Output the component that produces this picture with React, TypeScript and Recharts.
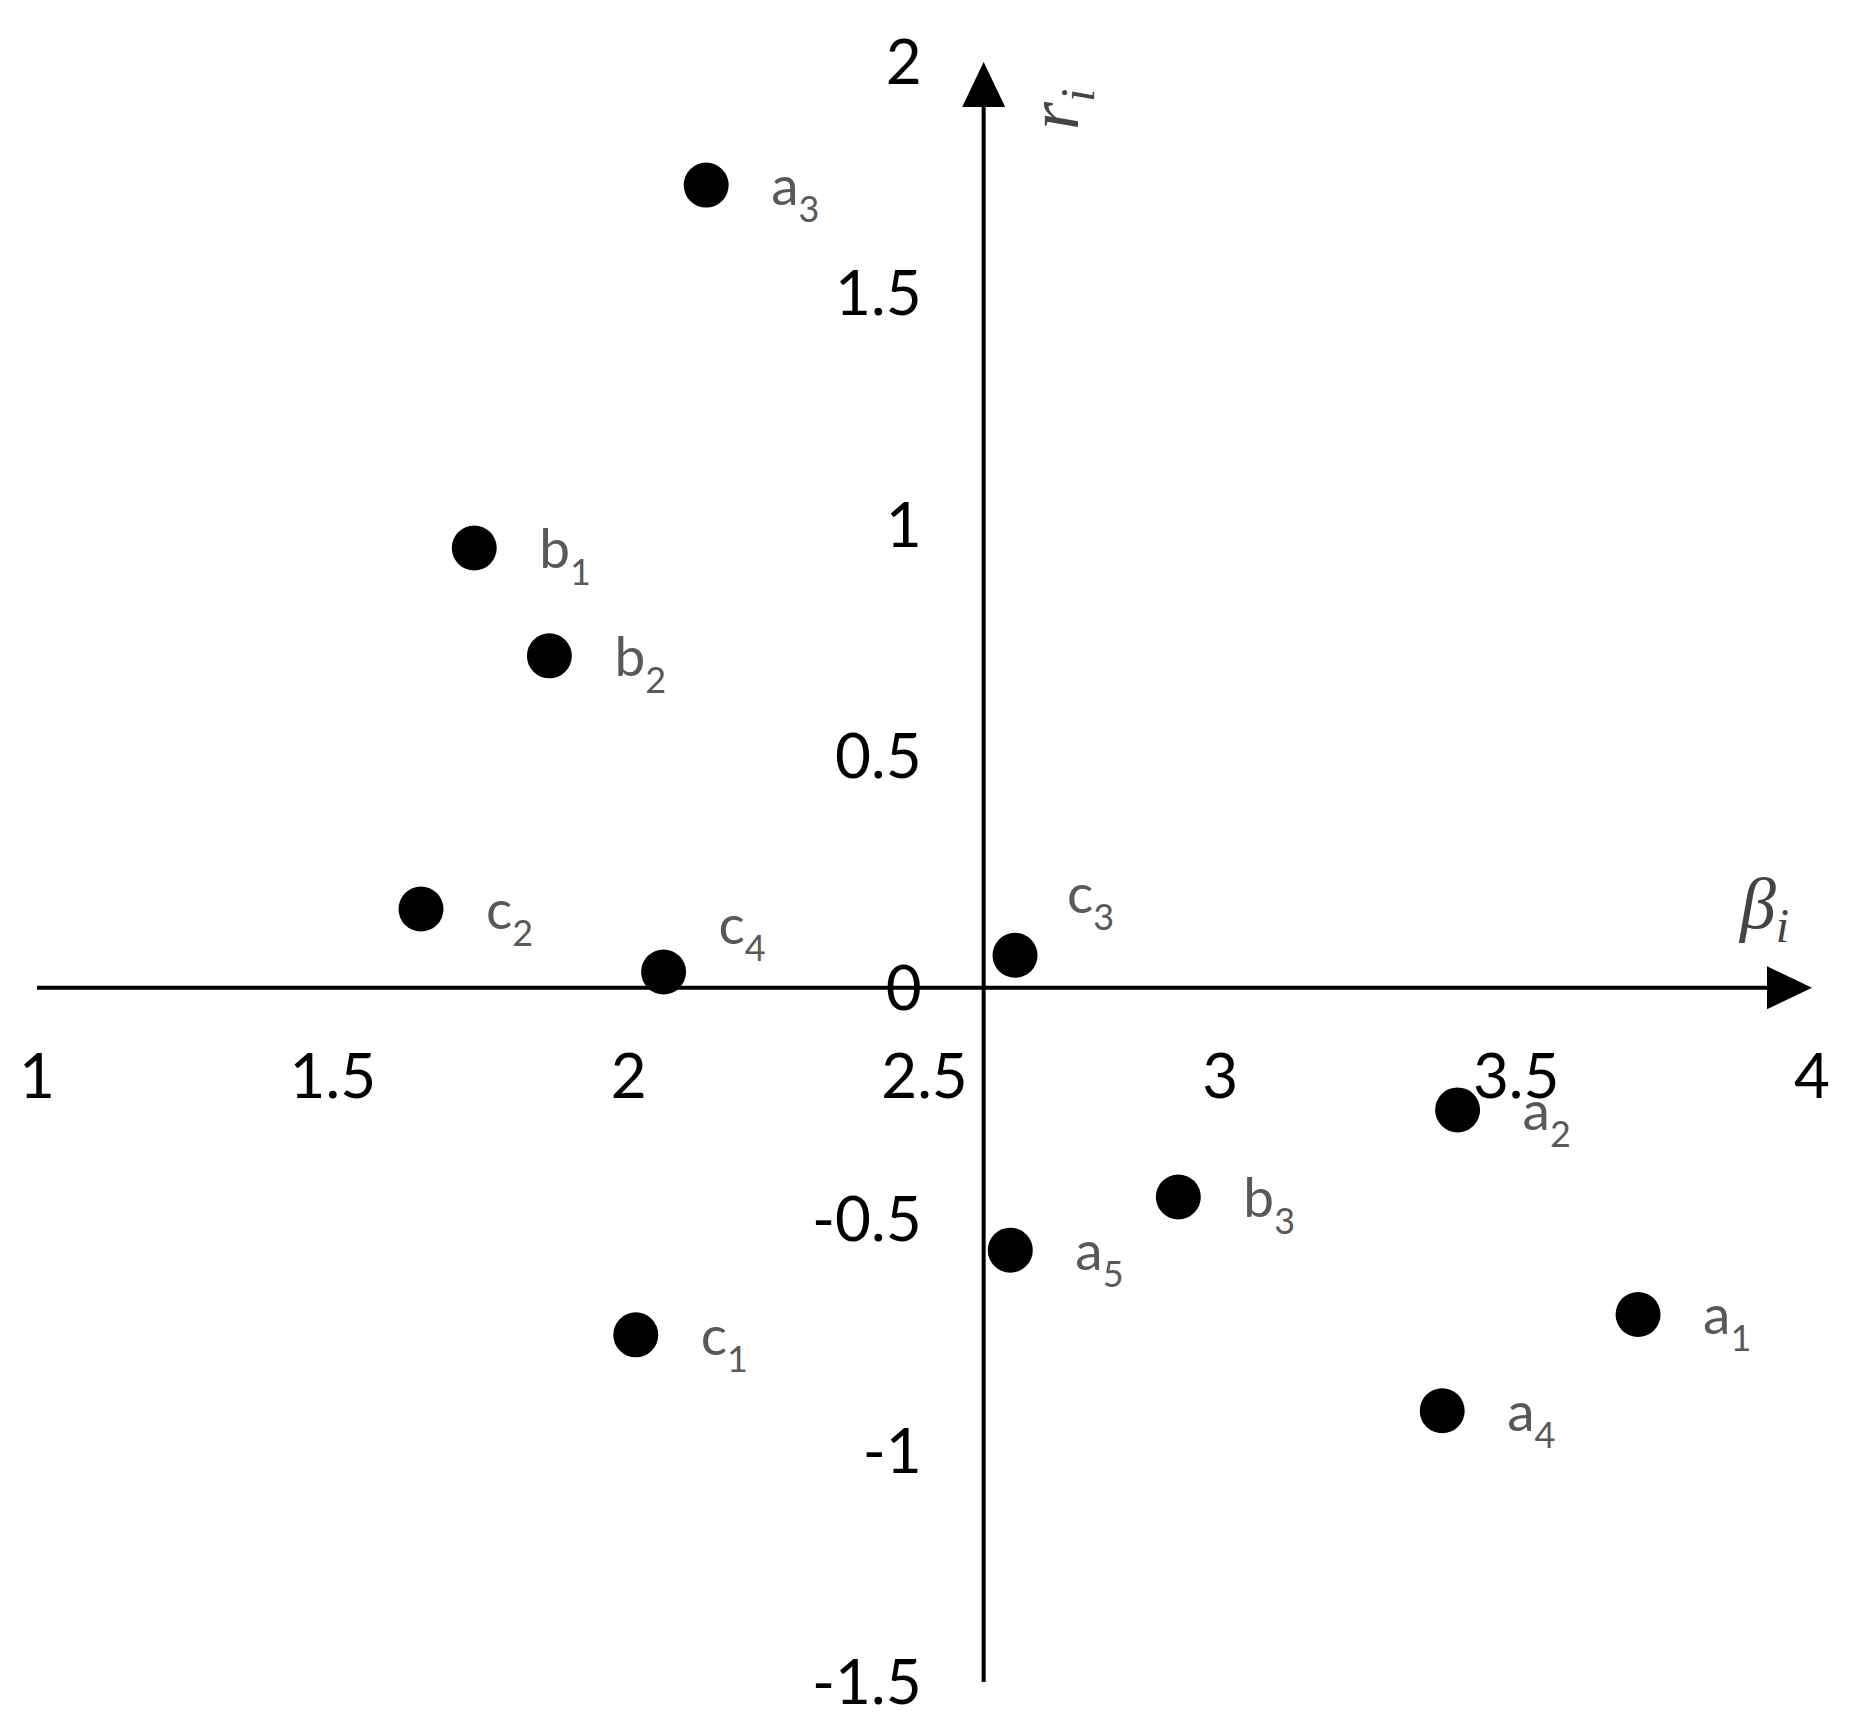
import { ScatterChart, Scatter, XAxis, YAxis, ReferenceLine, ReferenceDot } from "recharts";

// point names are letter + subscript
const letters = ["a", "a", "a", "a", "a", "b", "b", "b", "c", "c", "c", "c"];
const subs = ["1", "2", "3", "4", "5", "1", "2", "3", "1", "2", "3", "4"];
const betaValues = [3.706, 3.401, 2.131, 3.375, 2.645, 1.739, 1.866, 2.929, 2.012, 1.649, 2.653, 2.059];
const rValues = [-0.706, -0.264, 1.734, -0.914, -0.567, 0.95, 0.717, -0.452, -0.75, 0.17, 0.07, 0.034];

const xTicks = [1, 1.5, 2, 2.5, 3, 3.5, 4];
const yTicks = [2, 1.5, 1, 0.5, 0, -0.5, -1, -1.5];
const xCross = 2.6; // where the vertical axis sits

const data = betaValues.map((b, i) => ({ x: b, y: rValues[i], letter: letters[i], sub: subs[i] }));

// labels that sit above the axis instead of to the right
const labelNudge: Record<string, [number, number]> = {
  c3: [-13, -62],
  c4: [-10, -48],
};

const SANS = "Lato, 'Open Sans', sans-serif";
const MATH = "'Liberation Serif', 'DejaVu Serif', serif";
const LABEL_GREY = "#595959";

const PointShape = (p: any) => {
  const name = p.payload.letter + p.payload.sub;
  const [dx, dy] = labelNudge[name] || [0, 0];
  return (
    <g>
      <circle cx={p.cx} cy={p.cy} r={22.5} fill="#000" />
      <text x={p.cx + 65 + dx} y={p.cy + 20 + dy} fontFamily={SANS} fontSize={55} fill={LABEL_GREY}>
        {p.payload.letter}
        <tspan fontSize={36} dy={17}>{p.payload.sub}</tspan>
      </text>
    </g>
  );
};

const HorizontalAxis = (p: any) => {
  const left = Math.min(p.x1, p.x2);
  const tip = Math.max(p.x1, p.x2);
  const y = p.y1;
  const base = tip - 45;
  return (
    <g>
      <line x1={left} y1={y} x2={base + 2} y2={y} stroke="#000" strokeWidth={4} />
      <polygon points={`${tip},${y} ${base},${y - 21.5} ${base},${y + 21.5}`} fill="#000" />
      <text x={tip - 72} y={y - 60} fontFamily={MATH} fontStyle="italic" fontSize={72} fill="#444">
        β
        <tspan fontSize={48} dy={14}>i</tspan>
      </text>
    </g>
  );
};

const VerticalAxis = (p: any) => {
  const bottom = Math.max(p.y1, p.y2);
  const tip = Math.min(p.y1, p.y2);
  const x = p.x1;
  const base = tip + 45;
  return (
    <g>
      <line x1={x} y1={bottom} x2={x} y2={base - 2} stroke="#000" strokeWidth={4} />
      <polygon points={`${x},${tip} ${x - 21.5},${base} ${x + 21.5},${base}`} fill="#000" />
      <text
        transform={`translate(${x + 94},${tip + 68}) rotate(-90)`}
        fontFamily={MATH}
        fontStyle="italic"
        fontSize={72}
        fill="#444"
      >
        r
        <tspan fontSize={48} dy={16}>i</tspan>
      </text>
    </g>
  );
};

export default function App() {
  return (
    <div style={{ position: "absolute", left: 0, top: 0, background: "#fff" }}>
      <ScatterChart width={1864} height={1728} margin={{ top: 62, right: 52, bottom: 46, left: 37 }}>
        <XAxis type="number" dataKey="x" domain={[1, 4]} ticks={xTicks} hide />
        <YAxis type="number" dataKey="y" domain={[-1.5, 2]} ticks={yTicks} hide />
        <ReferenceLine y={0} shape={HorizontalAxis} />
        <ReferenceLine x={xCross} shape={VerticalAxis} />
        {xTicks.map((t) => (
          <ReferenceDot
            key={`xt-${t}`}
            x={t}
            y={0}
            r={0}
            shape={(p: any) => (
              <text x={p.cx} y={p.cy + 110} textAnchor="middle" fontFamily={SANS} fontSize={62} fill="#000">
                {String(t)}
              </text>
            )}
          />
        ))}
        {yTicks.map((t) => (
          <ReferenceDot
            key={`yt-${t}`}
            x={xCross}
            y={t}
            r={0}
            shape={(p: any) => (
              <text x={p.cx - 62} y={p.cy + 22} textAnchor="end" fontFamily={SANS} fontSize={62} fill="#000">
                {String(t)}
              </text>
            )}
          />
        ))}
        <Scatter data={data} shape={PointShape} isAnimationActive={false} />
      </ScatterChart>
    </div>
  );
}
